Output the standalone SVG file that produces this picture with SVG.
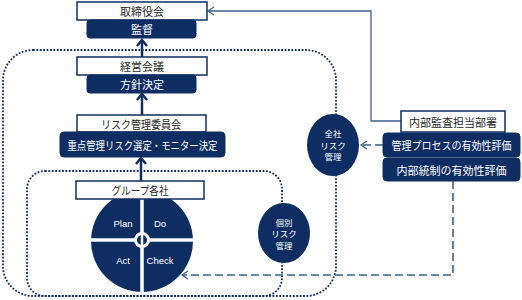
<svg xmlns="http://www.w3.org/2000/svg" width="522" height="300" viewBox="0 0 522 300">
<defs>
<style>
.wb{fill:#ffffff;stroke:#0e2d63;stroke-width:1.5}
.db{fill:#0e2d63;stroke:#0e2d63;stroke-width:1}
.jt{font-family:"Noto Sans CJK JP","Noto Sans",sans-serif;font-size:11px;text-anchor:middle;dominant-baseline:central}
.dk{fill:#262626}
.wt{fill:#ffffff}
.et{font-family:"Noto Sans CJK JP","Noto Sans",sans-serif;font-size:8.5px;fill:#ffffff;text-anchor:middle;dominant-baseline:central}
.lt{font-family:"Liberation Sans",Arial,sans-serif;font-size:9.5px;fill:#ffffff;text-anchor:middle;dominant-baseline:central}
.dot{fill:none;stroke:#0e2d63;stroke-width:1.8;stroke-dasharray:1.8 1.6}
.up{fill:none;stroke:#0e2d63;stroke-width:2.5}
.sl{fill:none;stroke:#3f5f8c;stroke-width:1.3}
.ds{fill:none;stroke:#3f5f8c;stroke-width:1.6;stroke-dasharray:8 4}
</style>
<marker id="ah" markerUnits="userSpaceOnUse" markerWidth="12" markerHeight="12" viewBox="-10 -6 12 12" refX="0" refY="0" orient="auto">
<path d="M-6,-5 L0,0 L-6,5" fill="none" stroke="#0e2d63" stroke-width="2.5"/>
</marker>
<marker id="as" markerUnits="userSpaceOnUse" markerWidth="12" markerHeight="12" viewBox="-10 -6 12 12" refX="0" refY="0" orient="auto">
<path d="M-6,-4 L0,0 L-6,4" fill="none" stroke="#3f5f8c" stroke-width="1.3"/>
</marker>
</defs>
<rect width="522" height="300" fill="#ffffff"/>

<g id="scope-zensha">
<rect class="dot" x="3" y="50" width="333" height="246" rx="30" ry="30"/>
</g>
<g id="scope-kobetsu">
<rect class="dot" x="27" y="171" width="255" height="125" rx="18" ry="18"/>
</g>

<g id="connectors">
<line class="up" x1="142" y1="57" x2="142" y2="40" marker-end="url(#ah)"/>
<line class="up" x1="142" y1="115" x2="142" y2="94" marker-end="url(#ah)"/>
<line class="up" x1="141" y1="181" x2="141" y2="158" marker-end="url(#ah)"/>
<polyline class="sl" points="401,121 371,121 371,11 208,11" marker-end="url(#as)"/>
<line class="ds" x1="383" y1="145" x2="361" y2="145" marker-end="url(#as)"/>
<polyline class="ds" points="453,181 453,275 182,275" marker-end="url(#as)"/>
</g>

<g id="node-torishimariyakukai">
<rect class="wb" x="77" y="2" width="130" height="18"/>
<text class="jt dk" x="142" y="11" font-size="11.5">取締役会</text>
</g>
<g id="node-kansa">
<rect class="db" x="87" y="20" width="109" height="18" rx="3"/>
<text class="jt wt" x="142" y="29">監督</text>
</g>

<g id="node-keiei">
<rect class="wb" x="77" y="57" width="130" height="18"/>
<text class="jt dk" x="142" y="66" font-size="11.5">経営会議</text>
</g>
<g id="node-houshin">
<rect class="db" x="87" y="75" width="109" height="18" rx="3"/>
<text class="jt wt" x="142" y="84">方針決定</text>
</g>

<g id="node-risk-iinkai">
<rect class="wb" x="77" y="115" width="129" height="17"/>
<text class="jt dk" x="141" y="123.5" textLength="80" lengthAdjust="spacingAndGlyphs">リスク管理委員会</text>
</g>
<g id="node-juten">
<rect class="db" x="60" y="132" width="165" height="25" rx="4"/>
<text class="jt wt" x="142.5" y="144.5" font-size="10.5" textLength="150" lengthAdjust="spacingAndGlyphs">重点管理リスク選定・モニター決定</text>
</g>

<g id="node-pdca">
<circle cx="142" cy="241" r="51" fill="#0e2d63"/>
<line x1="142" y1="190" x2="142" y2="292" stroke="#ffffff" stroke-width="3.5"/>
<line x1="91" y1="240" x2="193" y2="240" stroke="#ffffff" stroke-width="3.5"/>
<circle cx="142" cy="240" r="6.5" fill="#0e2d63" stroke="#ffffff" stroke-width="3"/>
<line x1="142" y1="232" x2="142" y2="248" stroke="#ffffff" stroke-width="2.5"/>
<text class="lt" x="123" y="223">Plan</text>
<text class="lt" x="160" y="223">Do</text>
<text class="lt" x="123" y="260">Act</text>
<text class="lt" x="160" y="260">Check</text>
</g>
<g id="node-group">
<rect class="wb" x="76" y="181" width="128" height="18"/>
<text class="jt dk" x="140" y="190" textLength="57" lengthAdjust="spacingAndGlyphs">グループ各社</text>
</g>

<g id="node-zensha-risk">
<ellipse cx="333" cy="145" rx="26" ry="31" fill="#0e2d63"/>
<text class="et" x="333" y="133">全社</text>
<text class="et" x="333" y="144.5">リスク</text>
<text class="et" x="333" y="156">管理</text>
</g>
<g id="node-kobetsu-risk">
<ellipse cx="284" cy="233" rx="26" ry="30" fill="#0e2d63"/>
<text class="et" x="284" y="221.5">個別</text>
<text class="et" x="284" y="233">リスク</text>
<text class="et" x="284" y="244.5">管理</text>
</g>

<g id="node-naibu-kansa">
<rect class="wb" x="401" y="111" width="104" height="21"/>
<text class="jt dk" x="453" y="121.5" font-size="12">内部監査担当部署</text>
</g>
<g id="node-kanri-process">
<rect class="db" x="383" y="133" width="137" height="24" rx="4"/>
<text class="jt wt" x="451.5" y="145" textLength="120" lengthAdjust="spacingAndGlyphs">管理プロセスの有効性評価</text>
</g>
<g id="node-naibu-tousei">
<rect class="db" x="383" y="158" width="137" height="23" rx="4"/>
<text class="jt wt" x="451.5" y="169.5">内部統制の有効性評価</text>
</g>
</svg>
